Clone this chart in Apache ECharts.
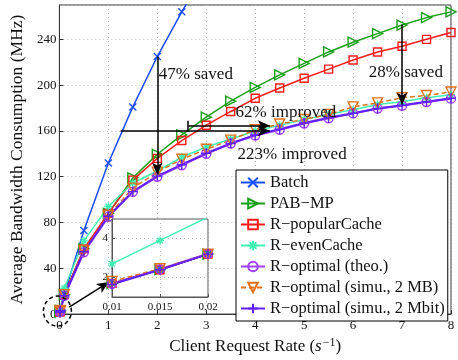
<!DOCTYPE html>
<html>
<head>
<meta charset="utf-8">
<script src="https://cdn.jsdelivr.net/npm/echarts@6/dist/echarts.min.js"></script>
<style>
  html, body { margin: 0; padding: 0; background: #fff; }
  #chart { width: 458px; height: 360px; }
</style>
</head>
<body>
<div id="chart"></div>
<script>
// request rates (s^-1); the first three are the zoomed-in inset points
const xRates = [0.01, 0.015, 0.02, 0.1, 0.5, 1, 1.5, 2, 2.5, 3, 3.5, 4, 4.5, 5, 5.5, 6, 6.5, 7, 7.5, 8];

const batch        = [1.7, 2.4, 3.2, 17, 73, 132, 181, 225, 264, 300];
const pabMp        = [1.7, 2.4, 3.2, 17, 57, 88, 119, 139.6, 156.5, 172, 186, 198, 209, 219, 229, 237.5, 245, 252.5, 259, 264];
const popularCache = [1.7, 2.4, 3.2, 17, 57, 88, 117, 136, 151.6, 165, 177, 188.5, 197.5, 206, 214, 222, 229, 234, 240, 246];
const evenCache    = [2.7, 3.9, 5.1, 22.6, 64, 94, 114.5, 125, 137, 146, 153, 160, 165, 170, 174.5, 178.5, 183, 185.5, 189, 191.5];
const optTheo      = [1.67, 2.42, 3.22, 16, 54, 85, 106.8, 120, 130, 140, 149, 156, 161, 166.5, 171, 175.3, 179.5, 182, 185.3, 188.2];
const optSimuMB    = [1.8, 2.45, 3.2, 17, 55.5, 86, 110, 124, 135.3, 144, 152, 161, 166, 170, 174.5, 181, 184.5, 189, 191, 194];
const optSimuMbit  = [1.65, 2.4, 3.2, 16, 54.5, 85.5, 107, 120.5, 130.5, 140.5, 149, 156.5, 161.5, 167, 171.5, 175.5, 179.5, 182.5, 185.5, 188.5];

const yTicks = [0, 40, 80, 120, 160, 200, 240];
const insetXTicks = [0.01, 0.015, 0.02];
const insetYTicks = [2, 4];

const FONT = '"Liberation Serif", "Times New Roman", serif';

const SYM = {
  cross: 'path://M0,0L10,10M10,0L0,10',
  triRight: 'path://M0,0L10,5L0,10Z',
  square: 'path://M0,0L10,0L10,10L0,10Z',
  star: 'path://M5,0L5,10M0,5L10,5M1.5,1.5L8.5,8.5M8.5,1.5L1.5,8.5',
  circle: 'path://M10,5A5,5,0,1,1,0,5A5,5,0,1,1,10,5Z',
  triDown: 'path://M0,0L10,0L5,9Z',
  plus: 'path://M5,0L5,10M0,5L10,5'
};

const lines = [
  { name: 'Batch', vals: batch, color: '#1a4cff', sym: SYM.cross, size: 7 },
  { name: 'PAB\u2212MP', vals: pabMp, color: '#1aa01a', sym: SYM.triRight, size: 10 },
  { name: 'R\u2212popularCache', vals: popularCache, color: '#ff1a1a', sym: SYM.square, size: 8 },
  { name: 'R\u2212evenCache', vals: evenCache, color: '#40f0b0', sym: SYM.star, size: 8 },
  { name: 'R\u2212optimal (theo.)', vals: optTheo, color: '#a040ff', sym: SYM.circle, size: 9, width: 2 },
  { name: 'R\u2212optimal (simu., 2 MB)', vals: optSimuMB, color: '#e0701a', sym: SYM.triDown, size: 10, dashed: true },
  { name: 'R\u2212optimal (simu., 2 Mbit)', vals: optSimuMbit, color: '#6020ff', sym: SYM.plus, size: 10, width: 2 }
];

function makeSeries(l, inset) {
  const n = inset ? 3 : l.vals.length;
  return {
    name: l.name,
    type: 'line',
    xAxisIndex: inset ? 1 : 0,
    yAxisIndex: inset ? 1 : 0,
    z: inset ? 6 : 2,
    data: xRates.slice(0, n).map((x, i) => [x, l.vals[i]]),
    symbol: l.sym,
    symbolSize: l.size,
    clip: true,
    lineStyle: { color: l.color, width: l.width || 1.5, type: l.dashed ? [5, 3] : 'solid' },
    itemStyle: { color: 'rgba(0,0,0,0)', borderColor: l.color, borderWidth: 1.4 }
  };
}

const series = [];
lines.forEach(l => series.push(makeSeries(l, false)));
lines.forEach(l => series.push(makeSeries(l, true)));

// arrows for the annotations
series.push({
  type: 'line',
  data: [],
  xAxisIndex: 0,
  yAxisIndex: 0,
  z: 7,
  markLine: {
    silent: true,
    animation: false,
    symbol: ['none', 'arrow'],
    symbolSize: [8, 12],
    label: { show: false },
    lineStyle: { color: '#000', width: 1.5, type: 'solid' },
    data: [
      [{ coord: [2, 225] }, { coord: [2, 122] }],
      [{ coord: [7, 253] }, { coord: [7, 183] }],
      [{ coord: [1.25, 160] }, { coord: [4.3, 160] }],
      [{ coord: [2.63, 164.6] }, { coord: [4.3, 164.6] }],
      [{ coord: [2.63, 159.5], symbol: 'none' }, { coord: [2.63, 169], symbol: 'none' }],
      [{ coord: [0.2, 6] }, { coord: [1.01, 28] }]
    ]
  }
});

const chart = echarts.init(document.getElementById('chart'), null, { renderer: 'canvas' });

const option = {
  animation: false,
  backgroundColor: '#fff',
  textStyle: { fontFamily: FONT },
  grid: [
    { left: 47, right: 7, top: 5, bottom: 40, show: true, borderColor: '#333', borderWidth: 1, z: 0 },
    { left: 112, top: 219, width: 96, height: 78, show: true, backgroundColor: '#fff', borderColor: '#555', borderWidth: 1, z: 4 }
  ],
  legend: {
    data: lines.map(l => l.name),
    orient: 'vertical',
    left: 236,
    top: 170,
    itemWidth: 24,
    itemHeight: 12,
    itemGap: 4,
    padding: [4, 3, 4, 4],
    backgroundColor: '#fff',
    borderColor: '#000',
    borderWidth: 1,
    z: 8,
    textStyle: { fontFamily: FONT, fontSize: 16.5, color: '#111', lineHeight: 17 }
  },
  xAxis: [
    {
      type: 'value', gridIndex: 0, min: 0, max: 8, interval: 1,
      name: 'Client Request Rate ({it|s}{sup|\u22121})',
      nameLocation: 'middle', nameGap: 20,
      nameTextStyle: {
        fontFamily: FONT, fontSize: 17, color: '#111',
        rich: {
          it: { fontFamily: FONT, fontSize: 17, fontStyle: 'italic', color: '#111' },
          sup: { fontFamily: FONT, fontSize: 12, color: '#111', verticalAlign: 'top', padding: [0, 0, 7, 1] }
        }
      },
      axisLine: { show: true, lineStyle: { color: '#333' } },
      axisTick: { inside: true, length: 4, lineStyle: { color: '#333' } },
      axisLabel: { fontFamily: FONT, fontSize: 13, color: '#111', margin: 5 },
      splitLine: { show: true, lineStyle: { color: '#bbb', type: [1, 3] } }
    },
    {
      type: 'value', gridIndex: 1, min: 0.01, max: 0.02, z: 5,
      axisLine: { show: true, lineStyle: { color: '#555' } },
      axisTick: { inside: true, length: 3, customValues: insetXTicks, lineStyle: { color: '#555' } },
      axisLabel: { fontFamily: FONT, fontSize: 11, color: '#111', margin: 5, customValues: insetXTicks, formatter: v => String(+v.toFixed(3)) },
      splitLine: { show: true, lineStyle: { color: '#bbb', type: [1, 3] } }
    }
  ],
  yAxis: [
    {
      type: 'value', gridIndex: 0, min: 0, max: 270, interval: 40,
      name: 'Average Bandwidth Consumption (MHz)',
      nameLocation: 'middle', nameGap: 29,
      nameTextStyle: { fontFamily: FONT, fontSize: 17.5, color: '#111' },
      axisLine: { show: true, lineStyle: { color: '#333' } },
      axisTick: { inside: true, length: 4, lineStyle: { color: '#333' } },
      axisLabel: { fontFamily: FONT, fontSize: 13, color: '#111', margin: 3, showMaxLabel: false,
        formatter: v => (yTicks.indexOf(v) >= 0 ? String(v) : '') },
      splitLine: { show: true, lineStyle: { color: '#bbb', type: [1, 3] } }
    },
    {
      type: 'value', gridIndex: 1, min: 1, max: 5, z: 5,
      axisLine: { show: true, lineStyle: { color: '#555' } },
      axisTick: { inside: true, length: 3, customValues: insetYTicks, lineStyle: { color: '#555' } },
      axisLabel: { fontFamily: FONT, fontSize: 11, color: '#111', margin: 4, customValues: insetYTicks },
      splitLine: { show: true, lineStyle: { color: '#bbb', type: [1, 3] } }
    }
  ],
  series: series
};

chart.setOption(option);

// annotation texts and the dashed circle round the origin
const notes = [
  { text: '47% saved', at: [2.03, 209.5] },
  { text: '28% saved', at: [6.32, 211.3] },
  { text: '62% improved', at: [3.6, 176.2] },
  { text: '223% improved', at: [3.64, 139.4] }
];
const graphic = notes.map(n => {
  const p = chart.convertToPixel({ gridIndex: 0 }, n.at);
  return {
    type: 'text', z: 9, x: p[0], y: p[1],
    style: { text: n.text, font: '17px ' + FONT, fill: '#111', align: 'left', verticalAlign: 'middle' }
  };
});
const o = chart.convertToPixel({ gridIndex: 0 }, [0, 0]);
graphic.push({
  type: 'ellipse', z: 9,
  shape: { cx: o[0] - 2, cy: o[1] - 3, rx: 14, ry: 15 },
  style: { fill: 'none', stroke: '#000', lineWidth: 1.5, lineDash: [4, 3] }
});
chart.setOption({ graphic: graphic });
</script>
</body>
</html>
